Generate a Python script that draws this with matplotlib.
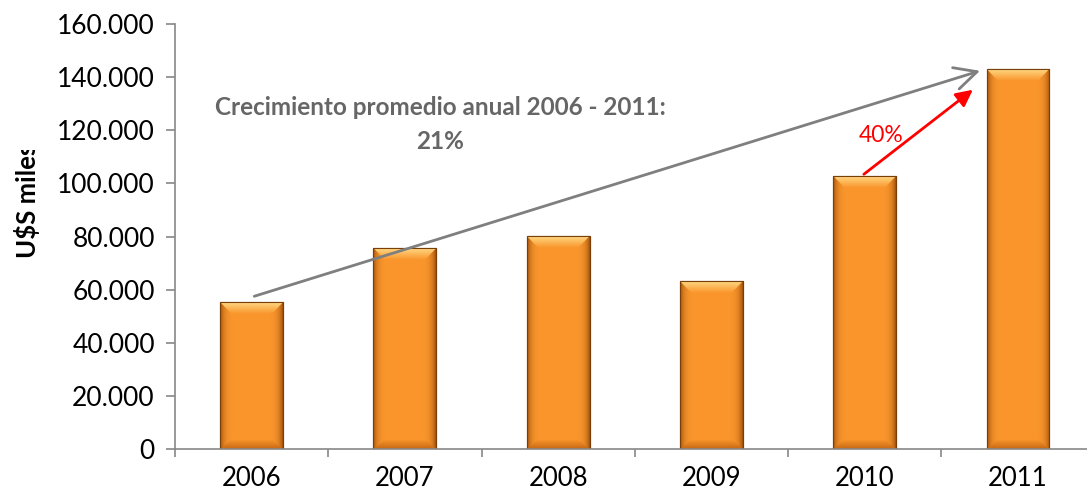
import numpy as np
import matplotlib
matplotlib.use('Agg')
from matplotlib import pyplot as plt
from matplotlib.patches import Polygon
from matplotlib.transforms import Bbox, TransformedBbox
from matplotlib.ticker import FuncFormatter

years = ['2006', '2007', '2008', '2009', '2010', '2011']
values = [55300, 75700, 80200, 63200, 102800, 143100]
growth_text = 'Crecimiento promedio anual 2006 - 2011:'
growth_pct = '21%'
last_pct = '40%'

plt.rcParams['font.family'] = ['Lato', 'DejaVu Sans']

fig = plt.figure(figsize=(10.87, 4.93), dpi=100)
ax = fig.add_axes([0.161, 0.0892, 0.846, 0.8621])

x = np.arange(len(years))
barwidth = 0.41
bars = ax.bar(x, values, width=barwidth, color='#f7931e', edgecolor='#7a3f08', linewidth=0.8, zorder=2)

# horizontal shading for the bevel look
edge_col = np.array([165, 84, 14]) / 255.0
mid_col = np.array([250, 150, 44]) / 255.0
xs = np.linspace(0, 1, 80)
prof = 1 - np.abs(2 * xs - 1) ** 8
shade = edge_col[None, :] + (mid_col - edge_col)[None, :] * prof[:, None]
shade_img = shade[None, :, :]

bevel = 4500  # height of the light top edge / dark bottom edge, data units
inset = 0.075
top_light = np.array([255, 215, 130]) / 255.0
top_img = np.zeros((20, 80, 3))
bot_img = np.zeros((20, 80, 3))
bot_dark = np.array([200, 105, 20]) / 255.0
for i in range(20):
    t = i / 19.0
    col = mid_col + (top_light - mid_col) * t
    top_img[i] = col[None, :] * np.ones((80, 1))
    colb = bot_dark + (mid_col - bot_dark) * t
    bot_img[i] = colb[None, :] * np.ones((80, 1))

for b in bars:
    x0 = b.get_x()
    x1 = x0 + b.get_width()
    h = b.get_height()
    im = ax.imshow(shade_img, extent=(x0, x1, 0, h), aspect='auto', zorder=2.1, interpolation='bilinear')
    im.set_clip_path(b)
    trap = Polygon([(x0, h), (x1, h), (x1 - inset, h - bevel), (x0 + inset, h - bevel)],
                   closed=True, transform=ax.transData, facecolor='none', edgecolor='none')
    ax.add_patch(trap)
    im2 = ax.imshow(top_img, extent=(x0, x1, h - bevel, h), origin='lower', aspect='auto',
                    zorder=2.2, interpolation='bilinear')
    im2.set_clip_path(trap)
    trap_b = Polygon([(x0, 0), (x1, 0), (x1 - inset, bevel * 0.8), (x0 + inset, bevel * 0.8)],
                     closed=True, transform=ax.transData, facecolor='none', edgecolor='none')
    ax.add_patch(trap_b)
    im3 = ax.imshow(bot_img, extent=(x0, x1, 0, bevel * 0.8), origin='lower', aspect='auto',
                    zorder=2.2, interpolation='bilinear')
    im3.set_clip_path(trap_b)
    ax.add_patch(Polygon([(x0, 0), (x1, 0), (x1, h), (x0, h)], closed=True, facecolor='none',
                         edgecolor='#7a3f08', linewidth=0.8, zorder=2.3))

ax.set_xlim(-0.5, 5.5)
ax.set_ylim(0, 160000)
ax.set_yticks(np.arange(0, 160001, 20000))
ax.yaxis.set_major_formatter(FuncFormatter(lambda v, p: f'{int(v):,}'.replace(',', '.')))
ax.set_xticks(x)
ax.set_xticklabels(years)
ax.set_xticks(np.arange(-0.5, 6, 1), minor=True)
ax.tick_params(axis='x', which='major', length=0, pad=12, labelsize=18.5)
ax.tick_params(axis='x', which='minor', length=6, width=1.2, color='#888888')
ax.tick_params(axis='y', length=6.5, width=1.2, color='#888888', labelsize=19, pad=8)

for s in ['top', 'right']:
    ax.spines[s].set_visible(False)
for s in ['left', 'bottom']:
    ax.spines[s].set_color('#888888')
    ax.spines[s].set_linewidth(1.2)
ax.spines['left'].set_bounds(0, 160000)

# average growth arrow
ax.annotate('', xy=(4.77, 142700), xytext=(0.0, 57200),
            arrowprops=dict(arrowstyle='->', color='#7f7f7f', lw=2.0, mutation_scale=40), zorder=3)
ax.text(1.23, 128400, growth_text, ha='center', va='center', fontsize=17.5, fontweight='bold', color='#666666')
ax.text(1.23, 115600, growth_pct, ha='center', va='center', fontsize=17.5, fontweight='bold', color='#666666')

# last year growth arrow
ax.annotate('', xy=(4.72, 135900), xytext=(3.98, values[4]),
            arrowprops=dict(arrowstyle='-|>', color='#ff0000', lw=2.0, mutation_scale=25), zorder=3)
ax.text(4.105, 118200, last_pct, ha='center', va='center', fontsize=16.5, color='#ff0000')

ylab = fig.text(0.0248, 0.4767, 'U$S miles', rotation=90, ha='center', va='bottom',
                fontsize=18.5, fontweight='bold', color='black')
ylab.set_clip_box(TransformedBbox(Bbox([[0, 0], [1, 0.6957]]), fig.transFigure))
ylab.set_clip_on(True)

fig.savefig('out.png', dpi=100)
